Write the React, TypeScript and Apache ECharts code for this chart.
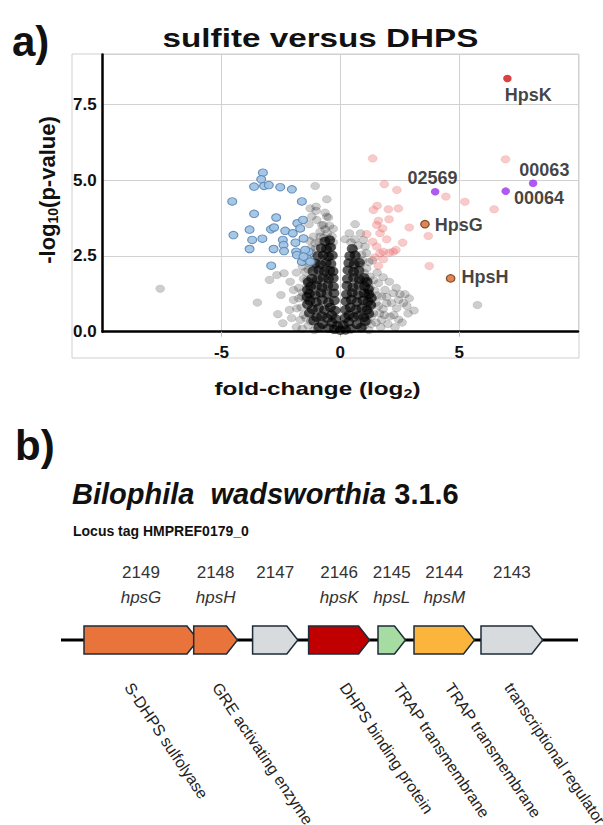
import React, { useEffect, useRef } from 'react';
import * as echarts from 'echarts';

// ---------- Panel a: volcano plot data (fold-change log2, -log10 p) ----------
const bluePoints: number[][] = [
  [-3.26, 5.25], [-3.33, 5.03], [-3.63, 4.79], [-3.21, 4.81], [-3.01, 4.84], [-2.53, 4.77],
  [-2.04, 4.70], [-4.55, 4.30], [-1.62, 4.30], [-3.63, 3.89], [-2.70, 3.77], [-3.82, 3.37],
  [-2.92, 3.38], [-2.79, 3.44], [-2.32, 3.33], [-2.00, 3.25], [-1.81, 3.58], [-1.69, 3.41],
  [-4.50, 3.19], [-3.28, 3.07], [-3.71, 3.03], [-2.42, 3.03], [-1.55, 3.08], [-2.39, 2.86],
  [-1.89, 2.94], [-3.82, 2.73], [-2.81, 2.73], [-2.37, 2.66], [-1.86, 2.64], [-1.83, 2.53],
  [-1.34, 2.64], [-1.62, 2.31], [-1.41, 2.42], [-2.91, 2.18], [-1.27, 2.31], [-1.57, 3.69],
  [-1.48, 2.70], [-1.55, 2.48],
];

const pinkPoints: number[][] = [
  [1.36, 5.72], [6.95, 5.69], [1.85, 4.87], [2.38, 4.68], [4.44, 4.46], [5.24, 4.29],
  [6.47, 4.04], [1.55, 4.16], [1.39, 4.02], [2.02, 4.04], [2.44, 4.07], [1.60, 3.66],
  [1.53, 3.52], [1.78, 3.41], [2.05, 3.71], [2.90, 3.44], [1.67, 3.25], [3.70, 3.16],
  [1.11, 3.22], [1.36, 2.97], [2.62, 2.94], [1.53, 2.81], [1.81, 2.64], [1.67, 2.59],
  [2.06, 2.61], [2.23, 2.64], [2.34, 2.70], [1.81, 2.39], [1.60, 2.17], [3.74, 2.17],
  [1.45, 2.45], [1.95, 3.05],
];

const grayPoints: number[][] = [
  [-1.06, 4.81], [-0.57, 4.37], [-1.27, 4.07], [-1.02, 4.13], [-0.64, 3.93], [-1.20, 3.80],
  [-0.99, 3.69], [-0.57, 3.80], [-1.32, 3.55], [-0.71, 3.52], [-0.85, 3.30], [-1.13, 3.14],
  [-1.02, 3.99], [-0.50, 3.77], [-0.78, 3.52], [-0.64, 3.38], [-0.85, 3.14], [-0.46, 3.08],
  [-1.06, 2.92], [-0.36, 2.81], [-1.25, 2.75], [-1.40, 2.45],
  [-7.58, 1.42], [-2.98, 1.71], [-2.67, 1.87], [-2.37, 1.93], [-2.11, 1.65], [-1.97, 1.38],
  [-2.50, 1.21], [-3.49, 0.96], [-1.97, 1.05], [-2.63, 0.58], [-2.42, 0.28], [-2.14, 0.72],
  [-1.83, 0.77], [-1.69, 0.39], [-1.62, 1.16], [-1.41, 1.71], [-1.48, 1.98], [-1.20, 2.15],
  [-1.75, 1.45], [-1.55, 0.55], [-1.85, 0.15], [-1.35, 0.20], [-2.05, 0.45], [-1.50, 2.30],
  [-1.60, 0.10], [-1.45, 0.45], [-1.65, 0.80], [-1.45, 1.05], [-1.60, 1.30], [-1.40, 1.50],
  [-1.55, 1.75], [-1.35, 2.05], [-1.60, 2.15], [-1.30, 2.35], [-1.20, 2.60], [-1.05, 2.75],
  [-0.90, 2.95], [-0.70, 3.10], [-0.55, 3.25], [-0.35, 3.15], [-0.30, 2.95], [-0.95, 0.10],
  [-1.25, 0.35], [-1.75, 1.10], [-1.85, 1.95], [-1.30, 3.00], [-0.45, 3.50], [-0.30, 3.40],
  [0.38, 3.25], [0.97, 3.03], [0.55, 2.70], [0.69, 2.48], [0.83, 2.20], [1.11, 2.09],
  [1.25, 1.82], [1.60, 1.60], [1.88, 1.38], [2.06, 1.65], [1.74, 1.16], [2.23, 1.27],
  [2.51, 1.24], [2.72, 1.24], [1.95, 0.94], [2.37, 0.77], [2.09, 0.50], [1.74, 0.39],
  [1.39, 0.61], [1.18, 1.16], [5.77, 0.88], [1.04, 2.81], [1.45, 1.35], [1.50, 0.95],
  [1.30, 0.25], [2.45, 0.40], [1.20, 0.05], [-1.10, 0.05], [0.62, 3.55], [0.20, 3.05],
  [1.35, 2.35], [1.55, 1.95], [2.65, 0.95], [2.85, 0.60], [1.05, 0.45], [1.25, 1.45],
  [1.05, 1.70], [0.90, 2.55], [0.75, 2.85],
  [1.00, 0.20], [1.15, 0.35], [1.30, 0.50], [1.50, 0.30], [1.65, 0.60], [1.85, 0.55],
  [2.00, 0.25], [2.25, 0.55], [2.60, 0.30], [1.10, 0.80], [1.30, 0.90], [1.60, 0.85],
  [1.80, 0.75], [2.15, 0.95], [2.45, 1.05], [2.80, 0.85], [1.15, 1.30], [1.35, 1.10],
  [1.55, 1.20], [1.95, 1.15], [2.35, 1.45], [1.20, 1.60], [1.40, 1.70], [1.80, 1.80],
  [1.00, 1.95], [1.20, 2.30], [0.95, 2.35], [1.10, 2.60], [0.60, 3.05], [0.85, 3.25],
  [0.45, 2.95], [1.70, 0.15], [2.30, 0.15], [0.90, 0.10], [3.10, 0.70], [2.90, 1.10],
];

const corePoints: number[][] = [
  [0.0, 0.05], [-0.25, 0.08], [0.22, 0.06], [-0.5, 0.12], [0.45, 0.1], [-0.12, 0.2], [0.12, 0.22],
  [-0.75, 0.25], [0.7, 0.24], [-0.35, 0.3], [0.35, 0.32], [-0.9, 0.15], [0.88, 0.14],
  [-1.0, 0.48], [-0.78, 0.52], [-0.55, 0.45], [-0.36, 0.55], [-0.2, 0.42], [0.2, 0.45], [0.36, 0.55],
  [0.55, 0.48], [0.76, 0.53], [0.98, 0.47],
  [-1.18, 0.74], [-0.92, 0.78], [-0.66, 0.72], [-0.42, 0.8], [-0.22, 0.7], [0.22, 0.72], [0.42, 0.8],
  [0.66, 0.74], [0.9, 0.78], [1.12, 0.72],
  [-1.28, 1.02], [-1.02, 0.98], [-0.76, 1.05], [-0.5, 0.97], [-0.25, 1.03], [0.24, 1.0], [0.46, 1.06],
  [0.7, 0.98], [0.95, 1.04], [1.16, 0.99],
  [-1.3, 1.26], [-1.06, 1.22], [-0.82, 1.28], [-0.56, 1.24], [-0.27, 1.27], [0.26, 1.23], [0.5, 1.28],
  [0.75, 1.22], [1.0, 1.27], [1.2, 1.24],
  [-1.25, 1.5], [-1.0, 1.53], [-0.77, 1.47], [-0.53, 1.52], [-0.29, 1.49], [0.28, 1.52], [0.53, 1.47],
  [0.78, 1.53], [1.02, 1.5],
  [-1.2, 1.76], [-0.96, 1.73], [-0.72, 1.78], [-0.5, 1.74], [-0.3, 1.77], [0.3, 1.74], [0.56, 1.78],
  [0.8, 1.73], [1.0, 1.78],
  [-1.15, 2.0], [-0.9, 2.03], [-0.67, 1.98], [-0.45, 2.02], [-0.31, 1.99], [0.32, 2.03], [0.56, 1.98],
  [0.78, 2.02],
  [-1.05, 2.26], [-0.82, 2.22], [-0.6, 2.27], [-0.4, 2.24], [0.36, 2.27], [0.58, 2.23], [0.8, 2.28],
  [-0.95, 2.5], [-0.72, 2.53], [-0.5, 2.48], [-0.34, 2.52], [0.4, 2.5], [0.62, 2.52],
  [-0.8, 2.76], [-0.58, 2.73], [-0.42, 2.78], [0.5, 2.74],
  [-0.65, 2.98], [-0.45, 3.02],
  [-1.12, 0.36], [1.05, 0.34], [-1.3, 0.62], [1.2, 0.6], [-1.38, 0.9], [1.28, 0.88],
  [-1.4, 1.15], [1.3, 1.12], [-1.38, 1.38], [1.18, 1.4], [-1.35, 1.64], [1.12, 1.65],
];

const specialNames = ['HpsK', '02569', '00063', '00064', 'HpsG', 'HpsH'];
const specialX = [7.03, 3.99, 8.11, 6.96, 3.56, 4.64];
const specialY = [8.36, 4.62, 4.90, 4.64, 3.55, 1.76];

// ---------- Panel b: gene cluster ----------
const geneIds = ['2149', '2148', '2147', '2146', '2145', '2144', '2143'];
const geneNames = ['hpsG', 'hpsH', '', 'hpsK', 'hpsL', 'hpsM', ''];
const geneProducts = [
  'S-DHPS sulfolyase', 'GRE activating enzyme', '', 'DHPS binding protein',
  'TRAP transmembrane', 'TRAP transmembrane', 'transcriptional regulator',
];
const geneStart = [460, 2654, 3832, 4952, 6340, 7060, 8400];
const geneEnd = [2740, 3530, 4736, 6172, 6890, 8270, 9634];
const locusLength = 10340;

// styles
const geneColors = ['#e8743b', '#e8743b', '#d8dbde', '#c00000', '#a6dca2', '#fbb53c', '#d8dbde'];
const productLabelShift = [-6, 7, 0, 11, 12, 11, 3];
const specialColors: Record<string, string> = {
  HpsK: '#cc1414', '02569': '#9a30ee', '00063': '#9a30ee', '00064': '#9a30ee', HpsG: '#d6682d', HpsH: '#d6682d',
};
const labelOffsets: Record<string, number[]> = {
  HpsK: [-12, 17], '02569': [-37, -14], '00063': [-23, -13], '00064': [-1, 7], HpsG: [0, 1], HpsH: [1, -1],
};

const FONT = '"Liberation Sans", Arial, Helvetica, sans-serif';

function buildOption(): any {
  const specialData = specialNames.map((n, i) => {
    const outlined = n === 'HpsG' || n === 'HpsH';
    return {
      name: n,
      value: [specialX[i], specialY[i]],
      itemStyle: {
        color: specialColors[n],
        borderColor: outlined ? '#6e3410' : specialColors[n],
        borderWidth: outlined ? 1.2 : 0,
      },
      label: { offset: labelOffsets[n] },
    };
  });

  const geneData = geneStart.map((s, i) => [s, geneEnd[i], i]);

  const txt = (extra: any) => ({
    fontFamily: FONT,
    ...extra,
    textAlign: extra.align,
    textVerticalAlign: extra.verticalAlign,
  });

  return {
    animation: false,
    backgroundColor: '#ffffff',
    grid: [
      { left: 102.7, top: 54.5, width: 475.3, height: 277.2 },
      { left: 61, top: 626, width: 517, height: 28 },
    ],
    xAxis: [
      {
        gridIndex: 0, type: 'value', min: -10, max: 10, interval: 5,
        axisLine: { onZero: false, lineStyle: { color: '#000', width: 2.5 } },
        axisTick: { show: true, length: 5, lineStyle: { color: '#bdbdbd' } },
        axisLabel: {
          showMinLabel: false, showMaxLabel: false, margin: 12,
          color: '#111', fontWeight: 'bold', fontSize: 17, fontFamily: FONT,
        },
        splitLine: { show: true, lineStyle: { color: '#d2d2d2', width: 1 } },
      },
      { gridIndex: 1, type: 'value', min: 0, max: locusLength, show: false },
    ],
    yAxis: [
      {
        gridIndex: 0, type: 'value', min: 0, max: 9.15, interval: 2.5,
        axisLine: { show: true, onZero: false, lineStyle: { color: '#000', width: 2.5 } },
        axisTick: { show: false },
        axisLabel: {
          showMaxLabel: false, margin: 6, color: '#111', fontWeight: 'bold', fontSize: 17, fontFamily: FONT,
          formatter: (v: number) => v.toFixed(1),
        },
        splitLine: { show: true, lineStyle: { color: '#d2d2d2', width: 1 } },
      },
      { gridIndex: 1, type: 'value', min: 0, max: 1, show: false },
    ],
    graphic: [
      { type: 'rect', z: 0, shape: { x: 72, y: 54, width: 507, height: 304 }, style: { fill: 'none', stroke: '#cfcfcf', lineWidth: 1 } },
      { type: 'text', x: 12, y: 41, style: txt({ text: 'a)', fontSize: 42, fontWeight: 'bold', fill: '#111', align: 'left', verticalAlign: 'middle' }) },
      { type: 'text', x: 320.5, y: 38, scaleX: 1.33, style: txt({ text: 'sulfite versus DHPS', fontSize: 25, fontWeight: 'bold', fill: '#111', align: 'center', verticalAlign: 'middle' }) },
      {
        type: 'text', x: 317.5, y: 389, scaleX: 1.35,
        style: txt({
          text: 'fold-change (log{s|2})', fontSize: 18, lineHeight: 22, fontWeight: 'bold', fill: '#111', align: 'center', verticalAlign: 'middle',
          rich: { s: { fontSize: 12, fontWeight: 'bold', fontFamily: FONT, verticalAlign: 'bottom', lineHeight: 14, fill: '#111' } },
        }),
      },
      {
        type: 'text', x: 47, y: 190, rotation: Math.PI / 2,
        style: txt({
          text: '-log{s|10}(p-value)', fontSize: 22, lineHeight: 26, fontWeight: 'bold', fill: '#111', align: 'center', verticalAlign: 'middle',
          rich: { s: { fontSize: 14, fontWeight: 'bold', fontFamily: FONT, verticalAlign: 'bottom', lineHeight: 15, fill: '#111' } },
        }),
      },
      { type: 'text', x: 15, y: 445, style: txt({ text: 'b)', fontSize: 42, fontWeight: 'bold', fill: '#111', align: 'left', verticalAlign: 'middle' }) },
      {
        type: 'text', x: 72, y: 494,
        style: txt({
          text: '{i|Bilophila  wadsworthia} {n|3.1.6}', fontSize: 29, fontWeight: 'bold', fill: '#111', align: 'left', verticalAlign: 'middle',
          rich: {
            i: { fontSize: 29, fontWeight: 'bold', fontStyle: 'italic', fontFamily: FONT, fill: '#111' },
            n: { fontSize: 29, fontWeight: 'bold', fontFamily: FONT, fill: '#111' },
          },
        }),
      },
      { type: 'text', x: 73, y: 531, style: txt({ text: 'Locus tag HMPREF0179_0', fontSize: 14, fontWeight: 'bold', fill: '#111', align: 'left', verticalAlign: 'middle' }) },
    ],
    series: [
      {
        type: 'scatter', xAxisIndex: 0, yAxisIndex: 0, silent: true, z: 2,
        symbol: 'circle', symbolSize: [9, 7.5], data: grayPoints,
        itemStyle: { color: 'rgba(0,0,0,0.24)', borderColor: 'rgba(0,0,0,0.15)', borderWidth: 0.8 },
      },
      {
        type: 'scatter', xAxisIndex: 0, yAxisIndex: 0, silent: true, z: 3,
        symbol: 'circle', symbolSize: [11, 9.5], data: corePoints,
        itemStyle: { color: 'rgba(0,0,0,0.8)' },
      },
      {
        type: 'scatter', xAxisIndex: 0, yAxisIndex: 0, silent: true, z: 4,
        symbol: 'circle', symbolSize: [9, 7.5], data: pinkPoints,
        itemStyle: { color: 'rgba(235,100,100,0.42)', borderColor: 'rgba(220,90,90,0.25)', borderWidth: 0.8 },
      },
      {
        type: 'scatter', xAxisIndex: 0, yAxisIndex: 0, silent: true, z: 5,
        symbol: 'circle', symbolSize: [9, 7.5], data: bluePoints,
        itemStyle: { color: '#9fc2e3', borderColor: '#5886b4', borderWidth: 1, opacity: 0.92 },
      },
      {
        type: 'scatter', xAxisIndex: 0, yAxisIndex: 0, silent: true, z: 6,
        symbol: 'circle', symbolSize: [8.5, 7.5], data: specialData,
        label: {
          show: true, position: 'right', distance: 5, formatter: '{b}',
          color: '#111', fontWeight: 'bold', fontSize: 18, fontFamily: FONT,
        },
      },
      {
        type: 'line', xAxisIndex: 1, yAxisIndex: 1, silent: true, z: 2,
        symbol: 'none', data: [[0, 0.5], [locusLength, 0.5]],
        lineStyle: { color: '#000', width: 3 },
      },
      {
        type: 'custom', xAxisIndex: 1, yAxisIndex: 1, silent: true, z: 5, clip: false,
        data: geneData,
        encode: { x: [0, 1] },
        renderItem: (params: any, api: any) => {
          const i = api.value(2);
          const p0 = api.coord([api.value(0), 1]);
          const p1 = api.coord([api.value(1), 0]);
          const x0 = p0[0], x1 = p1[0], top = p0[1], bottom = p1[1];
          const mid = (top + bottom) / 2;
          const head = Math.min(11, (x1 - x0) * 0.45);
          const cx = (x0 + x1) / 2;
          const children: any[] = [
            {
              type: 'polygon',
              shape: { points: [[x0, top], [x1 - head, top], [x1, mid], [x1 - head, bottom], [x0, bottom]] },
              style: { fill: geneColors[i], stroke: '#1e2b38', lineWidth: 1.5 },
            },
            {
              type: 'text', x: cx, y: top - 54,
              style: txt({ text: geneIds[i], fontSize: 17, fill: '#333', align: 'center', verticalAlign: 'middle' }),
            },
          ];
          if (geneNames[i]) {
            children.push({
              type: 'text', x: cx, y: top - 29,
              style: txt({ text: geneNames[i], fontSize: 17, fontStyle: 'italic', fill: '#333', align: 'center', verticalAlign: 'middle' }),
            });
          }
          if (geneProducts[i]) {
            children.push({
              type: 'text', x: cx + productLabelShift[i], y: bottom + 26, rotation: (-56 * Math.PI) / 180,
              style: txt({ text: geneProducts[i], fontSize: 16, fill: '#222', align: 'left', verticalAlign: 'top' }),
            });
          }
          return { type: 'group', children };
        },
      },
    ],
  };
}

export default function App() {
  const ref = useRef<HTMLDivElement>(null);
  useEffect(() => {
    if (!ref.current) return;
    const chart = echarts.init(ref.current, undefined, { renderer: 'svg' });
    chart.setOption(buildOption());
    return () => chart.dispose();
  }, []);
  return (
    <div
      ref={ref}
      style={{ position: 'absolute', left: 0, top: 0, width: 603, height: 825, background: '#fff' }}
    />
  );
}
